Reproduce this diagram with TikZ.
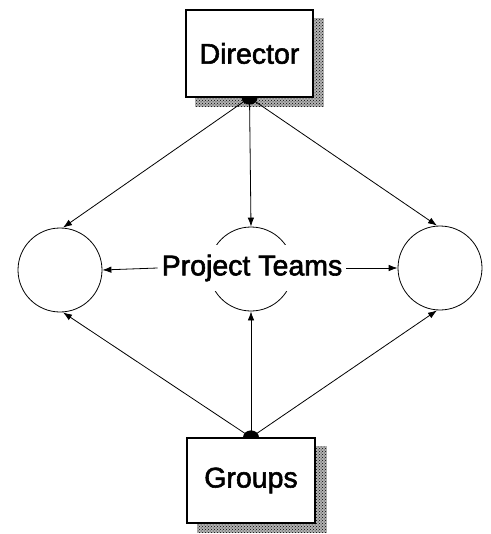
\documentclass[tikz,border=0pt]{standalone}
\usepackage{fontspec}
\setmainfont{Liberation Sans}
\newfontfamily\heavyface{Liberation Sans}[FakeBold=2]
\usetikzlibrary{arrows.meta,patterns,backgrounds}
\begin{document}
\begin{tikzpicture}[x=1pt,y=-1pt,
  big/.style={font=\heavyface\fontsize{28.5}{32}\selectfont},
  box/.style={draw, line width=1.2pt, fill=white, big},
  team/.style={draw, circle, line width=0.8pt, minimum size=84pt, inner sep=0pt},
  link/.style={line width=0.8pt, -{Latex[length=9pt,width=6.5pt]}},
  shade/.style={fill=black!30, postaction={pattern=crosshatch dots, pattern color=black}},
  blob/.style={fill=black}]
\useasboundingbox (0,0) rectangle (490,534);

% the two offices
\node[box, minimum width=127pt, minimum height=87pt] (director) at (249.5,53.5) {Director};
\node[box, minimum width=128pt, minimum height=85pt] (groups) at (251,480.5) {Groups};

% project team circles
\node[team] (left) at (60,270) {};
\node[team] (middle) at (251,269) {};
\node[team] (right) at (440,268) {};

% the label sits over the middle circle
\node[fill=white, inner xsep=4pt, inner ysep=10pt, big] (label) at (252,268) {Project Teams};

% shadows behind the boxes
\begin{pgfonlayer}{background}
  \fill[shade] ([shift={(10,9)}]director.north west) rectangle ([shift={(10,9)}]director.south east);
  \fill[shade] ([shift={(11,9)}]groups.north west) rectangle ([shift={(11,9)}]groups.south east);
\end{pgfonlayer}

% connection knobs
\fill[blob] ([xshift=-8pt]director.south) arc[start angle=180, end angle=360, x radius=8pt, y radius=7pt] -- cycle;
\fill[blob] ([xshift=-8pt]groups.north) arc[start angle=180, end angle=0, x radius=8pt, y radius=7pt] -- cycle;

% director to teams
\draw[link] (director.south) -- ([xshift=3pt]left.north);
\draw[link] (director.south) -- (middle.north);
\draw[link] (director.south) -- ([xshift=-3pt]right.north);

% groups to teams
\draw[link] (groups.north) -- ([xshift=3pt]left.south);
\draw[link] (groups.north) -- (middle.south);
\draw[link] (groups.north) -- ([xshift=-3pt]right.south);

% label to outer teams
\draw[link] (label.west) -- (left.east);
\draw[link] (label.east) -- (right.west);
\end{tikzpicture}
\end{document}
